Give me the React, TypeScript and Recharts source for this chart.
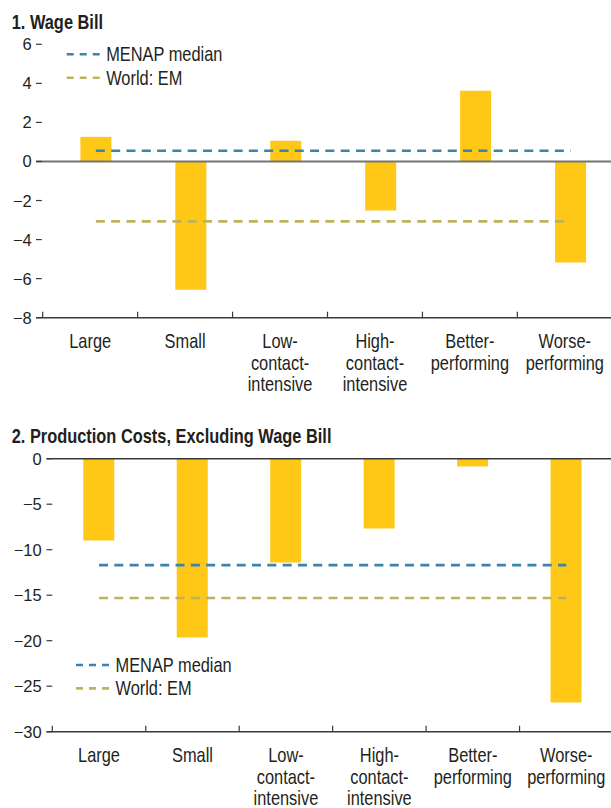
import { Bar, ComposedChart, Line, ReferenceLine, XAxis, YAxis } from "recharts";

// categories and their wrapped tick labels
const categories = [
  "Large",
  "Small",
  "Low-contact-intensive",
  "High-contact-intensive",
  "Better-performing",
  "Worse-performing",
];
const categoryLines = [
  ["Large"],
  ["Small"],
  ["Low-", "contact-", "intensive"],
  ["High-", "contact-", "intensive"],
  ["Better-", "performing"],
  ["Worse-", "performing"],
];

// 1. Wage Bill
const wageBill = [1.26, -6.57, 1.06, -2.51, 3.62, -5.17];
const wageMenap = [0.55, 0.55, 0.55, 0.55, 0.55, 0.55];
const wageWorld = [-3.07, -3.07, -3.07, -3.07, -3.07, -3.07];
const wageTicks = [-8, -6, -4, -2, 0, 2, 4, 6];

// 2. Production Costs, Excluding Wage Bill
const prodCosts = [-9.0, -19.66, -11.4, -7.67, -0.85, -26.8];
const prodMenap = [-11.7, -11.7, -11.7, -11.7, -11.7, -11.7];
const prodWorld = [-15.3, -15.3, -15.3, -15.3, -15.3, -15.3];
const prodTicks = [-30, -25, -20, -15, -10, -5, 0];

const COLORS = {
  bar: "#FFC716",
  menap: "#3B84B0",
  world: "#BDB35E",
  axis: "#3a3a3a",
  zero: "#747474",
  text: "#231F20",
};

const FONT = "'Liberation Sans', Arial, sans-serif";
// no narrow face installed, so squeeze Liberation Sans like Arial Narrow
const SQUEEZE = 0.82;

const fmt = (v: number) => (v < 0 ? "\u2212" + Math.abs(v) : String(v));

function NarrowText({
  x,
  y,
  anchor = "start",
  bold = false,
  size = 20,
  children,
}: {
  x: number;
  y: number;
  anchor?: "start" | "middle" | "end";
  bold?: boolean;
  size?: number;
  children: React.ReactNode;
}) {
  return (
    <text
      transform={`translate(${x} ${y}) scale(${SQUEEZE} 1)`}
      textAnchor={anchor}
      fontFamily={FONT}
      fontWeight={bold ? "bold" : "normal"}
      fontSize={size}
      fill={COLORS.text}
    >
      {children}
    </text>
  );
}

type PanelProps = {
  top: number;
  width: number;
  height: number;
  plotTop: number;
  plotBottom: number;
  yAxisWidth: number;
  padLeft: number;
  shift: number;
  labelRight: number;
  values: number[];
  menap: number[];
  world: number[];
  ticks: number[];
  zeroColor: string;
  zeroWidth: number;
};

function Panel(p: PanelProps) {
  const data = categories.map((cat, i) => ({
    cat,
    value: p.values[i],
    menap: p.menap[i],
    world: p.world[i],
  }));
  const bw = (p.width - p.yAxisWidth - p.padLeft) / categories.length;
  const localTop = p.plotTop - p.top;
  const localBottom = p.plotBottom - p.top;

  const XTick = (props: any) => {
    const { x, payload } = props;
    const lines = categoryLines[categories.indexOf(payload.value)] || [];
    const cx = x - p.shift;
    const edge = cx - bw / 2;
    return (
      <g>
        <line x1={edge} x2={edge} y1={localBottom} y2={localBottom - 6} stroke={COLORS.axis} strokeWidth={1.2} />
        {lines.map((l, i) => (
          <NarrowText key={i} x={cx} y={localBottom + 30.5 + i * 21.5} anchor="middle">
            {l}
          </NarrowText>
        ))}
      </g>
    );
  };

  const YTick = (props: any) => {
    const { y, payload } = props;
    return (
      <g>
        <text x={p.labelRight} y={y + 6} textAnchor="end" fontFamily={FONT} fontSize={16.5} fill={COLORS.text}>
          {fmt(payload.value)}
        </text>
        <line x1={p.yAxisWidth} x2={p.yAxisWidth + 5.8} y1={y} y2={y} stroke={COLORS.axis} strokeWidth={1.2} />
      </g>
    );
  };

  return (
    <div style={{ position: "absolute", left: 0, top: p.top }}>
      <ComposedChart
        width={p.width}
        height={p.height}
        data={data}
        margin={{ top: localTop, right: 0, bottom: 0, left: 0 }}
      >
        <XAxis
          dataKey="cat"
          interval={0}
          tickLine={false}
          axisLine={{ stroke: COLORS.axis, strokeWidth: 1.5 }}
          padding={{ left: p.padLeft, right: 0 }}
          height={p.height - localBottom}
          tick={XTick}
        />
        <YAxis
          type="number"
          domain={[p.ticks[0], p.ticks[p.ticks.length - 1]]}
          ticks={p.ticks}
          interval={0}
          width={p.yAxisWidth}
          axisLine={false}
          tickLine={false}
          tick={YTick}
        />
        <Bar dataKey="value" fill={COLORS.bar} barSize={31} isAnimationActive={false} />
        <ReferenceLine y={0} stroke={p.zeroColor} strokeWidth={p.zeroWidth} />
        <Line
          type="linear"
          dataKey="menap"
          stroke={COLORS.menap}
          strokeWidth={2.6}
          strokeDasharray="9 6.3"
          dot={false}
          activeDot={false}
          isAnimationActive={false}
        />
        <Line
          type="linear"
          dataKey="world"
          stroke={COLORS.world}
          strokeWidth={2.6}
          strokeDasharray="9 6.3"
          dot={false}
          activeDot={false}
          isAnimationActive={false}
        />
      </ComposedChart>
    </div>
  );
}

function LegendBlock({ x, y }: { x: number; y: number }) {
  const items = [
    { name: "MENAP median", color: COLORS.menap },
    { name: "World: EM", color: COLORS.world },
  ];
  return (
    <g>
      {items.map((it, i) => (
        <g key={it.name}>
          <line
            x1={x}
            x2={x + 33}
            y1={y + i * 23.4}
            y2={y + i * 23.4}
            stroke={it.color}
            strokeWidth={2.6}
            strokeDasharray="7 6"
          />
          <NarrowText x={x + 39.5} y={y + i * 23.4 + 7}>
            {it.name}
          </NarrowText>
        </g>
      ))}
    </g>
  );
}

export default function App() {
  return (
    <div
      style={{
        position: "absolute",
        left: 0,
        top: 0,
        width: 611,
        height: 808,
        overflow: "hidden",
        background: "#fff",
      }}
    >
      <Panel
        top={0}
        width={618}
        height={400}
        plotTop={44.3}
        plotBottom={317.7}
        yAxisWidth={36}
        padLeft={12.4}
        shift={5.7}
        labelRight={31.7}
        values={wageBill}
        menap={wageMenap}
        world={wageWorld}
        ticks={wageTicks}
        zeroColor={COLORS.zero}
        zeroWidth={2}
      />
      <Panel
        top={420}
        width={613}
        height={388}
        plotTop={458.7}
        plotBottom={731.7}
        yAxisWidth={46.5}
        padLeft={5.8}
        shift={0}
        labelRight={41.7}
        values={prodCosts}
        menap={prodMenap}
        world={prodWorld}
        ticks={prodTicks}
        zeroColor={COLORS.axis}
        zeroWidth={1.5}
      />
      <svg
        width={611}
        height={808}
        style={{ position: "absolute", left: 0, top: 0, pointerEvents: "none" }}
      >
        <NarrowText x={11.7} y={29} bold>
          1. Wage Bill
        </NarrowText>
        <LegendBlock x={66.7} y={54.3} />
        <NarrowText x={11.7} y={443} bold>
          2. Production Costs, Excluding Wage Bill
        </NarrowText>
        <LegendBlock x={76} y={665} />
      </svg>
    </div>
  );
}
